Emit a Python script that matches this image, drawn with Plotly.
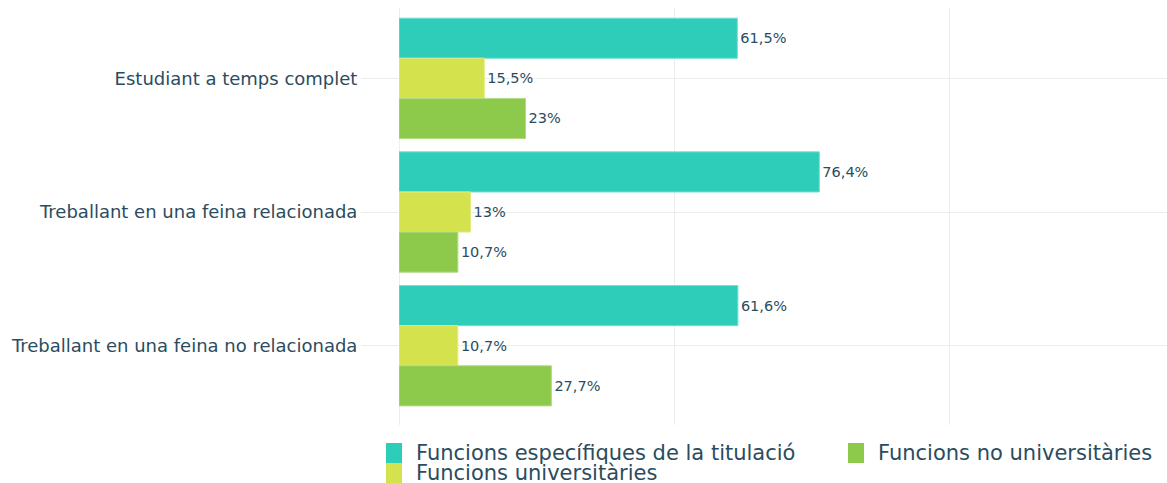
import plotly.graph_objects as go

categories = ["Estudiant a temps complet",
              "Treballant en una feina relacionada",
              "Treballant en una feina no relacionada"]
series_names = ["Funcions específiques de la titulació",
                "Funcions universitàries",
                "Funcions no universitàries"]
especifiques = [61.5, 76.4, 61.6]
universitaries = [15.5, 13, 10.7]
no_universitaries = [23, 10.7, 27.7]
series_values = [especifiques, universitaries, no_universitaries]
colors = ["#2ECDB9", "#D3E24D", "#8DC94B"]
line_colors = ["#6FE0D2", "#E2EC86", "#B3DB84"]

TEXT = "#2B4C5E"
GRID = "#EDEDED"
FONT = "DejaVu Sans"

W, H = 1167, 483
ML, MR, MT, MB = 399, 0, 8, 58
PW, PH = W - ML - MR, H - MT - MB


def fmt(v):
    s = ("%g" % v).replace(".", ",")
    return s + "%"


fig = go.Figure()
for name, vals, c, lc in zip(series_names, series_values, colors, line_colors):
    fig.add_trace(go.Bar(
        y=categories, x=vals, name=name, orientation="h",
        marker=dict(color=c, line=dict(color=lc, width=1)),
        text=[fmt(v) for v in vals], textposition="outside",
        textfont=dict(family=FONT, size=14.5, color=TEXT),
        cliponaxis=False, showlegend=False,
    ))


def px2x(px):
    return (px - ML) / PW


def py2y(py):
    return (H - MB - py) / PH


# custom legend (two columns: teal, green / yellow)
legend_slots = [(386, 443), (386, 463), (848, 443)]
shapes, annos = [], []
for (lx, ly), name, c in zip(legend_slots, series_names, colors):
    shapes.append(dict(type="rect", xref="paper", yref="paper",
                       x0=px2x(lx), x1=px2x(lx + 16),
                       y0=py2y(ly), y1=py2y(ly + 20),
                       fillcolor=c, line=dict(width=0)))
    annos.append(dict(xref="paper", yref="paper", x=px2x(lx + 28),
                      y=py2y(ly + 10), xanchor="left", yanchor="middle",
                      text=name, showarrow=False,
                      font=dict(family=FONT, size=21, color=TEXT)))

fig.update_layout(
    width=W, height=H,
    margin=dict(l=ML, r=MR, t=MT, b=MB),
    paper_bgcolor="white", plot_bgcolor="white",
    barmode="group", bargap=0.1, bargroupgap=0,
    font=dict(family=FONT, color=TEXT),
    xaxis=dict(range=[0, 139.6], dtick=50, showticklabels=False,
               showgrid=True, gridcolor=GRID, gridwidth=1,
               zeroline=True, zerolinecolor=GRID, zerolinewidth=1,
               showline=False),
    yaxis=dict(range=[2.593, -0.526], showgrid=True, gridcolor=GRID,
               ticks="outside", ticklen=37, tickcolor=GRID,
               tickfont=dict(family=FONT, size=18, color=TEXT),
               zeroline=False, showline=False),
    shapes=shapes, annotations=annos,
    showlegend=False,
)

fig.write_html("out.html", config={"displayModeBar": False},
               post_script="document.body.style.margin='0';document.body.style.overflow='hidden';")
